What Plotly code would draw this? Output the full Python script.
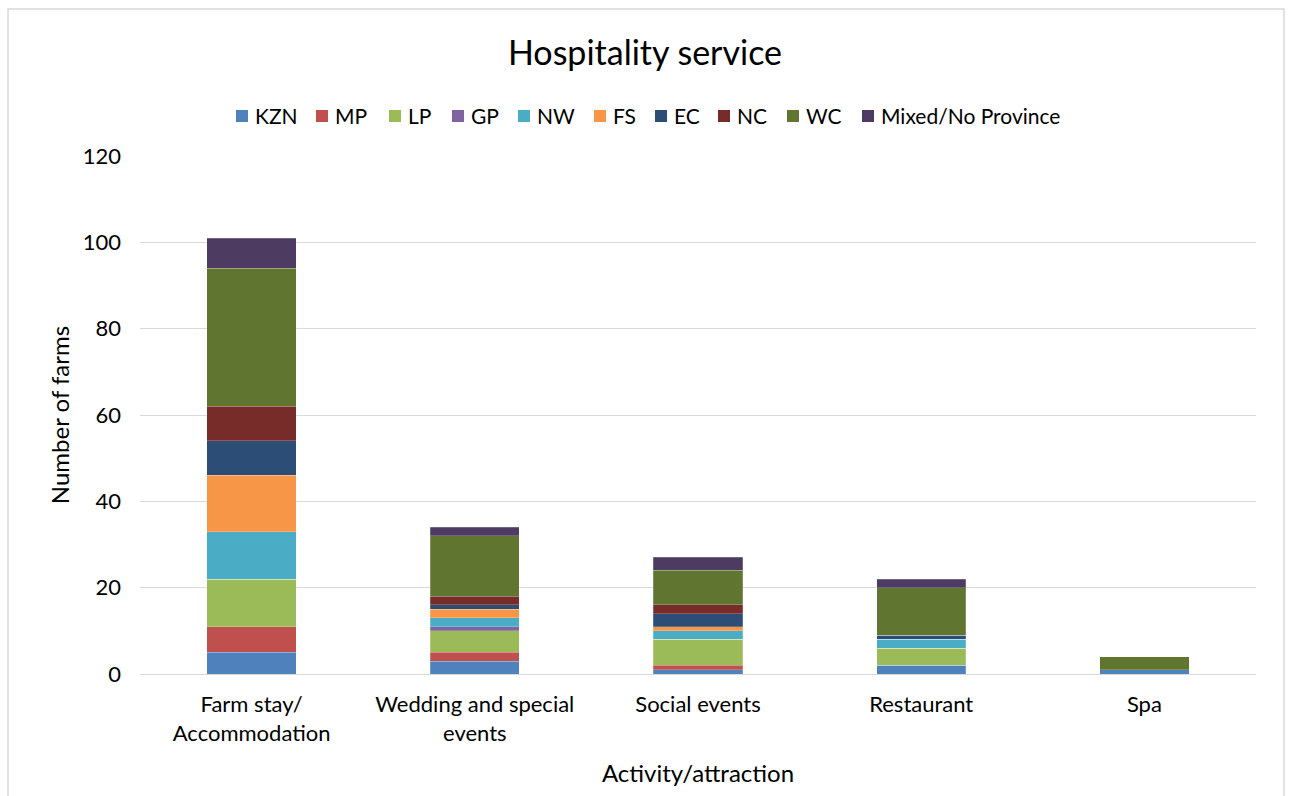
import plotly.graph_objects as go

# Activities (x categories) and farm counts per province
categories = ["Farm stay/<br>Accommodation", "Wedding and special<br>events",
              "Social events", "Restaurant", "Spa"]

provinces = ["KZN", "MP", "LP", "GP", "NW", "FS", "EC", "NC", "WC", "Mixed/No Province"]

kzn = [5, 3, 1, 2, 1]
mp = [6, 2, 1, 0, 0]
lp = [11, 5, 6, 4, 0]
gp = [0, 1, 0, 0, 0]
nw = [11, 2, 2, 2, 0]
fs = [13, 2, 1, 0, 0]
ec = [8, 1, 3, 1, 0]
nc = [8, 2, 2, 0, 0]
wc = [32, 14, 8, 11, 3]
mixed = [7, 2, 3, 2, 0]

series = [kzn, mp, lp, gp, nw, fs, ec, nc, wc, mixed]
colors = ["#4F81BD", "#C0504D", "#9BBB59", "#8064A2", "#4BACC6",
          "#F79646", "#2C4D75", "#772C2A", "#5F7530", "#4D3B62"]

y_ticks = [0, 20, 40, 60, 80, 100, 120]

FONT = "Lato, Calibri, 'Open Sans', sans-serif"

L, R, T, B = 140, 34, 156, 122
W, H = 1290, 796
pw, ph = W - L - R, H - T - B


def px_x(p):
    return (p - L) / pw


def px_y(p):
    return (H - B - p) / ph


fig = go.Figure()
for name, vals, col in zip(provinces, series, colors):
    fig.add_trace(go.Bar(
        x=categories, y=vals, name=name, showlegend=False,
        marker=dict(color=col, line=dict(color="rgba(255,255,255,0.35)", width=0.6)),
    ))

fig.update_layout(
    width=W, height=H,
    barmode="stack", bargap=0.6,
    plot_bgcolor="white", paper_bgcolor="white",
    margin=dict(l=L, r=R, t=T, b=B),
    font=dict(family=FONT, color="#000000", size=22),
    title=dict(text="Hospitality service", x=0.5, xanchor="center",
               y=1 - 53 / H, yanchor="middle",
               font=dict(size=34, family=FONT, color="#000000")),
    xaxis=dict(
        title=dict(text="Activity/attraction", font=dict(size=24, family=FONT), standoff=20),
        tickfont=dict(size=22, family=FONT), showgrid=False,
        showline=True, linecolor="#D9D9D9", linewidth=1, ticks="",
        ticklabelstandoff=11,
    ),
    yaxis=dict(
        title=dict(text="Number of farms", font=dict(size=24, family=FONT), standoff=6),
        range=[0, 120], tickvals=y_ticks, tickfont=dict(size=22, family=FONT),
        showgrid=True, gridcolor="#D9D9D9", gridwidth=1,
        zeroline=True, zerolinecolor="#D9D9D9", zerolinewidth=1,
        ticks="", ticklen=0, ticklabelstandoff=18,
    ),
)

# Legend row drawn as colour swatches with labels
legend_x = [236, 316, 389, 452, 518, 594, 655, 718, 787, 862]
legend_y = 116
sw = 12
for name, col, lx in zip(provinces, colors, legend_x):
    fig.add_shape(type="rect", xref="paper", yref="paper",
                  x0=px_x(lx), x1=px_x(lx + sw),
                  y0=px_y(legend_y + sw / 2), y1=px_y(legend_y - sw / 2),
                  line=dict(width=0), fillcolor=col)
    fig.add_annotation(text=name, xref="paper", yref="paper",
                       x=px_x(lx + 17), y=px_y(legend_y), xanchor="left", yanchor="middle",
                       showarrow=False, font=dict(size=21, family=FONT, color="#000000"))

# Chart-area border
fig.add_shape(type="rect", xref="paper", yref="paper",
              x0=px_x(8), x1=px_x(1284), y0=px_y(820), y1=px_y(9),
              line=dict(color="#D9D9D9", width=1.5), fillcolor="rgba(0,0,0,0)",
              layer="below")

fig.write_html("out.html")
